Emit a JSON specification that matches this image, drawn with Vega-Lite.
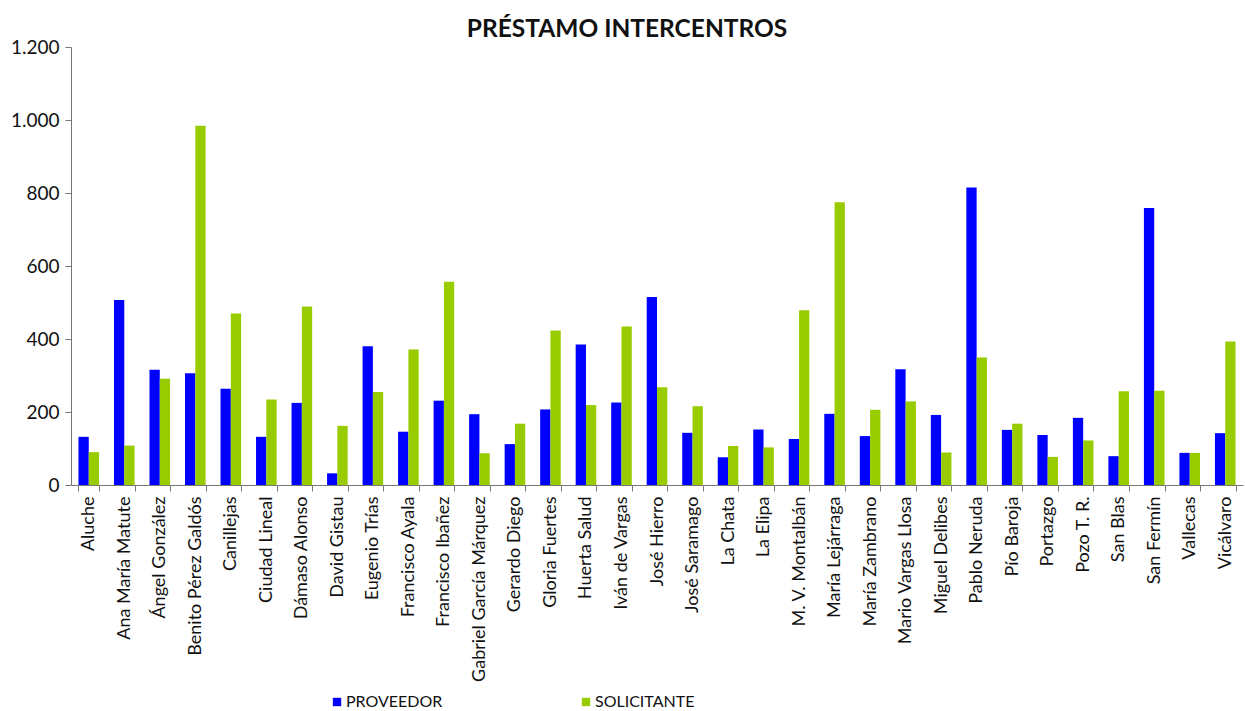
{
  "$schema": "https://vega.github.io/schema/vega-lite/v6.json",
  "autosize": {"type": "none"},
  "padding": {"left": 71, "top": 47, "right": 2, "bottom": 226},
  "width": 1172,
  "height": 438,
  "config": {
    "locale": {"number": {"decimal": ",", "thousands": ".", "grouping": [3], "currency": ["", " €"]}},
    "font": "Lato",
    "view": {"stroke": null}
  },
  "title": {"text": "PRÉSTAMO INTERCENTROS", "font": "Lato", "fontSize": 24.5, "fontWeight": "bold", "color": "#111", "anchor": "middle", "dx": -30, "offset": -4},
  "data": {"values": [
    {"centro": "Aluche", "serie": "PROVEEDOR", "valor": 132},
    {"centro": "Aluche", "serie": "SOLICITANTE", "valor": 90},
    {"centro": "Ana María Matute", "serie": "PROVEEDOR", "valor": 507},
    {"centro": "Ana María Matute", "serie": "SOLICITANTE", "valor": 108},
    {"centro": "Ángel González", "serie": "PROVEEDOR", "valor": 316},
    {"centro": "Ángel González", "serie": "SOLICITANTE", "valor": 291},
    {"centro": "Benito Pérez Galdós", "serie": "PROVEEDOR", "valor": 306},
    {"centro": "Benito Pérez Galdós", "serie": "SOLICITANTE", "valor": 984},
    {"centro": "Canillejas", "serie": "PROVEEDOR", "valor": 264},
    {"centro": "Canillejas", "serie": "SOLICITANTE", "valor": 470},
    {"centro": "Ciudad Lineal", "serie": "PROVEEDOR", "valor": 132},
    {"centro": "Ciudad Lineal", "serie": "SOLICITANTE", "valor": 234},
    {"centro": "Dámaso Alonso", "serie": "PROVEEDOR", "valor": 225},
    {"centro": "Dámaso Alonso", "serie": "SOLICITANTE", "valor": 489},
    {"centro": "David Gistau", "serie": "PROVEEDOR", "valor": 32},
    {"centro": "David Gistau", "serie": "SOLICITANTE", "valor": 162},
    {"centro": "Eugenio Trías", "serie": "PROVEEDOR", "valor": 380},
    {"centro": "Eugenio Trías", "serie": "SOLICITANTE", "valor": 255},
    {"centro": "Francisco Ayala", "serie": "PROVEEDOR", "valor": 146},
    {"centro": "Francisco Ayala", "serie": "SOLICITANTE", "valor": 371},
    {"centro": "Francisco Ibañez", "serie": "PROVEEDOR", "valor": 231},
    {"centro": "Francisco Ibañez", "serie": "SOLICITANTE", "valor": 557},
    {"centro": "Gabriel García Márquez", "serie": "PROVEEDOR", "valor": 194},
    {"centro": "Gabriel García Márquez", "serie": "SOLICITANTE", "valor": 87},
    {"centro": "Gerardo Diego", "serie": "PROVEEDOR", "valor": 112},
    {"centro": "Gerardo Diego", "serie": "SOLICITANTE", "valor": 168},
    {"centro": "Gloria Fuertes", "serie": "PROVEEDOR", "valor": 207},
    {"centro": "Gloria Fuertes", "serie": "SOLICITANTE", "valor": 423},
    {"centro": "Huerta Salud", "serie": "PROVEEDOR", "valor": 385},
    {"centro": "Huerta Salud", "serie": "SOLICITANTE", "valor": 219},
    {"centro": "Iván de Vargas", "serie": "PROVEEDOR", "valor": 226},
    {"centro": "Iván de Vargas", "serie": "SOLICITANTE", "valor": 434},
    {"centro": "José Hierro", "serie": "PROVEEDOR", "valor": 515},
    {"centro": "José Hierro", "serie": "SOLICITANTE", "valor": 268},
    {"centro": "José Saramago", "serie": "PROVEEDOR", "valor": 143},
    {"centro": "José Saramago", "serie": "SOLICITANTE", "valor": 216},
    {"centro": "La Chata", "serie": "PROVEEDOR", "valor": 76},
    {"centro": "La Chata", "serie": "SOLICITANTE", "valor": 107},
    {"centro": "La Elipa", "serie": "PROVEEDOR", "valor": 152},
    {"centro": "La Elipa", "serie": "SOLICITANTE", "valor": 103},
    {"centro": "M. V. Montalbán", "serie": "PROVEEDOR", "valor": 126},
    {"centro": "M. V. Montalbán", "serie": "SOLICITANTE", "valor": 479},
    {"centro": "María Lejárraga", "serie": "PROVEEDOR", "valor": 195},
    {"centro": "María Lejárraga", "serie": "SOLICITANTE", "valor": 775},
    {"centro": "María Zambrano", "serie": "PROVEEDOR", "valor": 134},
    {"centro": "María Zambrano", "serie": "SOLICITANTE", "valor": 206},
    {"centro": "Mario Vargas Llosa", "serie": "PROVEEDOR", "valor": 317},
    {"centro": "Mario Vargas Llosa", "serie": "SOLICITANTE", "valor": 229},
    {"centro": "Miguel Delibes", "serie": "PROVEEDOR", "valor": 192},
    {"centro": "Miguel Delibes", "serie": "SOLICITANTE", "valor": 89},
    {"centro": "Pablo Neruda", "serie": "PROVEEDOR", "valor": 815},
    {"centro": "Pablo Neruda", "serie": "SOLICITANTE", "valor": 349},
    {"centro": "Pío Baroja", "serie": "PROVEEDOR", "valor": 151},
    {"centro": "Pío Baroja", "serie": "SOLICITANTE", "valor": 168},
    {"centro": "Portazgo", "serie": "PROVEEDOR", "valor": 137},
    {"centro": "Portazgo", "serie": "SOLICITANTE", "valor": 77},
    {"centro": "Pozo T. R.", "serie": "PROVEEDOR", "valor": 184},
    {"centro": "Pozo T. R.", "serie": "SOLICITANTE", "valor": 122},
    {"centro": "San Blas", "serie": "PROVEEDOR", "valor": 79},
    {"centro": "San Blas", "serie": "SOLICITANTE", "valor": 257},
    {"centro": "San Fermín", "serie": "PROVEEDOR", "valor": 759},
    {"centro": "San Fermín", "serie": "SOLICITANTE", "valor": 258},
    {"centro": "Vallecas", "serie": "PROVEEDOR", "valor": 88},
    {"centro": "Vallecas", "serie": "SOLICITANTE", "valor": 88},
    {"centro": "Vicálvaro", "serie": "PROVEEDOR", "valor": 142},
    {"centro": "Vicálvaro", "serie": "SOLICITANTE", "valor": 393}
  ]},
  "mark": {"type": "bar"},
  "encoding": {
    "x": {
      "field": "centro", "type": "nominal", "sort": null,
      "scale": {"paddingInner": 0.42, "paddingOuter": 0.21},
      "axis": {
        "title": null, "labelAngle": -90, "labelAlign": "right", "labelBaseline": "middle",
        "labelFont": "Lato", "labelFontSize": 18, "labelColor": "#111", "labelPadding": 5,
        "tickBand": "extent", "tickSize": 6, "tickColor": "#777", "domainColor": "#777",
        "labelLimit": 300
      }
    },
    "xOffset": {"field": "serie", "type": "nominal", "sort": ["PROVEEDOR", "SOLICITANTE"]},
    "y": {
      "field": "valor", "type": "quantitative",
      "scale": {"domain": [0, 1200]},
      "axis": {
        "title": null, "values": [0, 200, 400, 600, 800, 1000, 1200], "format": ",d",
        "grid": false, "labelFont": "Lato", "labelFontSize": 19, "labelColor": "#111",
        "tickSize": 6, "tickColor": "#777", "domainColor": "#777", "labelPadding": 6
      }
    },
    "color": {
      "field": "serie", "type": "nominal",
      "scale": {"domain": ["PROVEEDOR", "SOLICITANTE"], "range": ["#0000FF", "#99CC00"]},
      "legend": {
        "title": null, "orient": "none", "legendX": 258, "legendY": 647, "direction": "horizontal",
        "symbolType": "square", "symbolSize": 70, "symbolStrokeWidth": 0, "labelFont": "Lato", "labelFontSize": 16,
        "labelColor": "#111", "columnPadding": 135, "labelOffset": 1
      }
    }
  }
}
